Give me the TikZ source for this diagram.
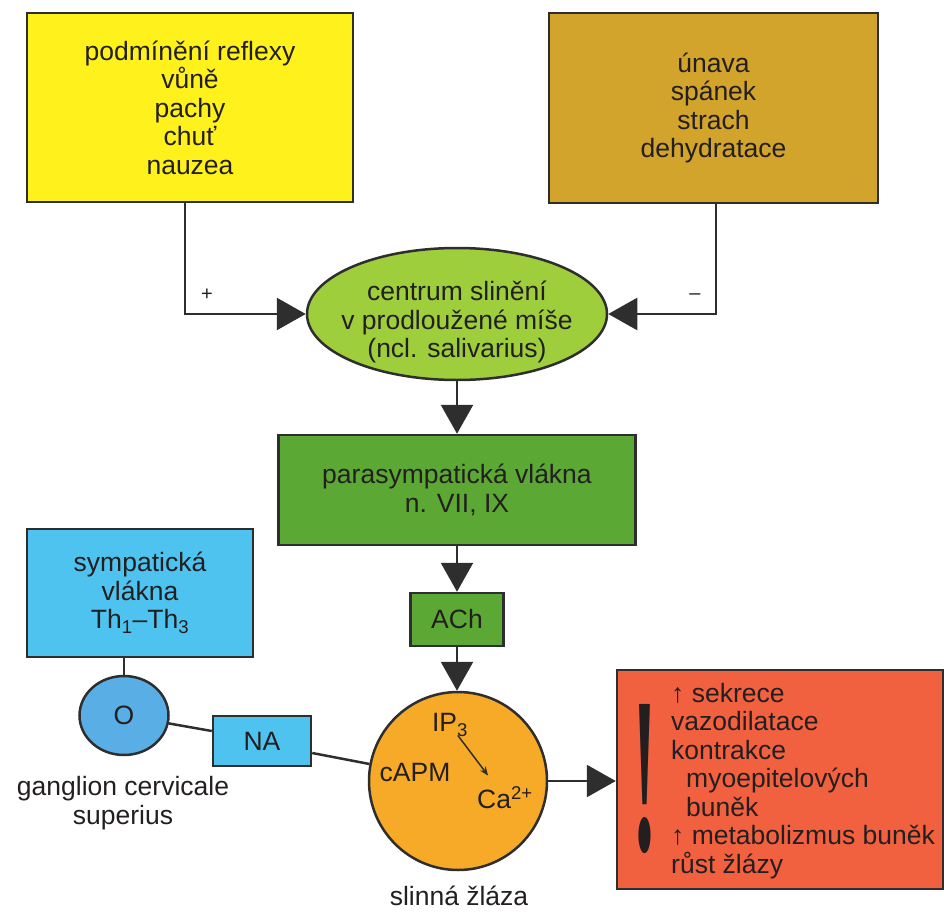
\documentclass[tikz,border=0pt]{standalone}
\usepackage{graphicx}
\usepackage{fontspec}
\setmainfont{Liberation Sans}
\newfontfamily\exclfont{Liberation Serif}
\usetikzlibrary{arrows.meta,shapes.geometric}
\definecolor{cYel}{HTML}{FFF21C}
\definecolor{cBrn}{HTML}{D3A42C}
\definecolor{cEll}{HTML}{9FCE3C}
\definecolor{cGrn}{HTML}{5CA834}
\definecolor{cBlu}{HTML}{4EC3EF}
\definecolor{cGan}{HTML}{5AAEE6}
\definecolor{cOra}{HTML}{F7AA27}
\definecolor{cRed}{HTML}{F2613F}
\definecolor{cLine}{HTML}{2E2E2E}
\definecolor{cTxt}{HTML}{231F20}
\begin{document}
\begin{tikzpicture}[x=1pt,y=-1pt,
  every node/.style={text=cTxt, font=\fontsize{26.5}{28.5}\selectfont, inner sep=0pt, align=center},
  box/.style={draw=cLine, line width=2.5pt, rectangle},
  link/.style={draw=cLine, line width=2.5pt},
  arr/.style={link, -{Triangle[length=29pt,width=32pt]}},
  small/.style={font=\fontsize{20}{24}\selectfont}
]
\useasboundingbox (0,0) rectangle (944,912);

% boxes
\node[box, fill=cYel, minimum width=326pt, minimum height=189pt] (yel) at (190,107.5)
  {podmínění reflexy\\vůně\\pachy\\chuť\\nauzea};
\node[box, fill=cBrn, minimum width=329pt, minimum height=190pt] (brn) at (713.5,108)
  {únava\\spánek\\strach\\dehydratace};
\node[ellipse, draw=cLine, line width=2.5pt, fill=cEll, minimum width=300pt, minimum height=132pt] (ell) at (457,314) {};
\node (elltxt) at (457,322) {centrum slinění\\v prodloužené míše\\(ncl. salivarius)};
\node[box, fill=cGrn, minimum width=357pt, minimum height=110pt] (grn) at (457,490)
  {parasympatická vlákna\\n. VII, IX};
\node[box, fill=cGrn, minimum width=93pt, minimum height=53pt] (ach) at (457,619.5) {ACh};
\node[circle, draw=cLine, line width=2.5pt, fill=cOra, minimum size=178pt] (circ) at (458,781) {};
\node[box, fill=cRed, minimum width=326pt, minimum height=219pt] (red) at (780,779.5) {};
\node[box, fill=cBlu, minimum width=226pt, minimum height=128pt] (blue) at (140,593)
  {sympatická\\vlákna\\Th\textsubscript{1}–Th\textsubscript{3}};
\node[ellipse, draw=cLine, line width=2.5pt, fill=cGan, minimum width=89pt, minimum height=79pt] (gang) at (124,715.5) {O};
\node[box, fill=cBlu, minimum width=98pt, minimum height=50pt] (na) at (262,741) {NA};

% labels
\node (gangl) at (123,803) {ganglion cervicale\\superius};
\node (gland) at (459,896) {slinná žláza};
\node (ip) at (450,725) {IP\textsubscript{3}};
\node (camp) at (415,773) {cAPM};
\node (ca) at (505,798) {Ca\textsuperscript{2+}};
\node[small] (plus) at (207,295) {+};
\node[small] (minus) at (695,297) {–};
\node[align=left, anchor=north west] (redtxt) at (671,683)
  {↑ sekrece\\vazodilatace\\kontrakce\\\hspace*{15pt}myoepitelových\\\hspace*{15pt}buněk\\↑ metabolizmus buněk\\růst žlázy};
\node (excl) at (645,779.5) {\resizebox{25pt}{146pt}{\exclfont\bfseries !}};

% connectors
\draw[arr] ([xshift=-5pt]yel.south) |- (ell.west);
\draw[arr] ([xshift=2.5pt]brn.south) |- (ell.east);
\draw[arr] (ell.south) -- (grn.north);
\draw[arr] (grn.south) -- (ach.north);
\draw[arr] (ach.south) -- (ach.south |- circ.north);
\draw[arr] (circ.east) -- (circ.east -| red.west);
\draw[link] (gang.north) -- (gang.north |- blue.south);
\draw[link] (gang) -- ([yshift=10pt]na.west);
\draw[link] ([yshift=-12pt]na.east) -- (circ);
\draw[cLine, line width=1.5pt, -{Stealth[length=9pt,width=7pt]}, shorten <=13pt, shorten >=28pt] (ip.center) -- (ca.center);
\end{tikzpicture}
\end{document}
